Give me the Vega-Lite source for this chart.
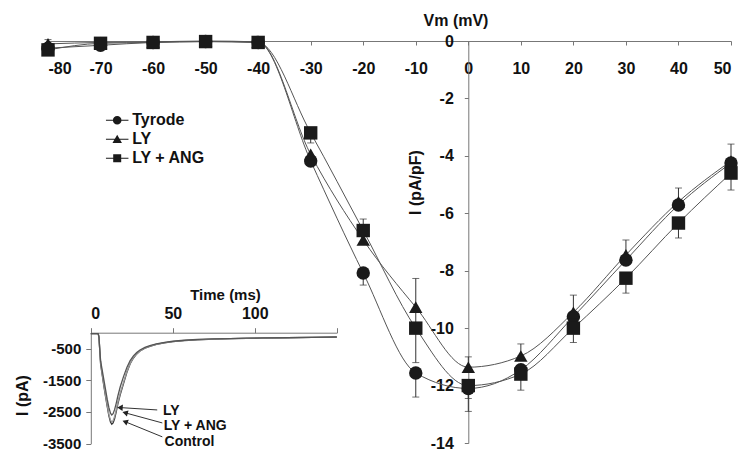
{
  "$schema": "https://vega.github.io/schema/vega-lite/v6.json",
  "width": 683,
  "height": 402,
  "autosize": {"type": "none"},
  "padding": {"left": 48, "top": 41, "right": 13, "bottom": 13},
  "background": "white",
  "config": {
    "view": {"stroke": null},
    "font": "Liberation Sans",
    "axis": {
      "grid": false,
      "labelFont": "Liberation Sans",
      "labelFontWeight": "bold",
      "labelFontSize": 16,
      "labelColor": "#111111",
      "titleFont": "Liberation Sans",
      "titleFontWeight": "bold",
      "titleFontSize": 16,
      "titleColor": "#111111",
      "domainColor": "#777777",
      "tickColor": "#777777",
      "labelOverlap": false
    }
  },
  "datasets": {
    "main": [
      {"V": -80, "I": -0.25, "series": "Tyrode"},
      {"V": -70, "I": -0.15, "series": "Tyrode"},
      {"V": -60, "I": -0.05, "series": "Tyrode"},
      {"V": -50, "I": -0.02, "series": "Tyrode"},
      {"V": -40, "I": -0.05, "series": "Tyrode"},
      {"V": -30, "I": -4.18, "series": "Tyrode"},
      {"V": -20, "I": -8.08, "series": "Tyrode"},
      {"V": -10, "I": -11.56, "series": "Tyrode"},
      {"V": 0, "I": -12.1, "series": "Tyrode"},
      {"V": 10, "I": -11.45, "series": "Tyrode"},
      {"V": 20, "I": -9.6, "series": "Tyrode"},
      {"V": 30, "I": -7.63, "series": "Tyrode"},
      {"V": 40, "I": -5.71, "series": "Tyrode"},
      {"V": 50, "I": -4.25, "series": "Tyrode"},
      {"V": -80, "I": -0.1, "series": "LY"},
      {"V": -70, "I": -0.05, "series": "LY"},
      {"V": -60, "I": -0.03, "series": "LY"},
      {"V": -50, "I": 0, "series": "LY"},
      {"V": -40, "I": -0.03, "series": "LY"},
      {"V": -30, "I": -3.95, "series": "LY"},
      {"V": -20, "I": -6.93, "series": "LY"},
      {"V": -10, "I": -9.27, "series": "LY"},
      {"V": 0, "I": -11.36, "series": "LY"},
      {"V": 10, "I": -10.97, "series": "LY"},
      {"V": 20, "I": -9.45, "series": "LY"},
      {"V": 30, "I": -7.45, "series": "LY"},
      {"V": 40, "I": -5.6, "series": "LY"},
      {"V": 50, "I": -4.18, "series": "LY"},
      {"V": -80, "I": -0.31, "series": "LY + ANG"},
      {"V": -70, "I": -0.08, "series": "LY + ANG"},
      {"V": -60, "I": -0.05, "series": "LY + ANG"},
      {"V": -50, "I": -0.02, "series": "LY + ANG"},
      {"V": -40, "I": -0.05, "series": "LY + ANG"},
      {"V": -30, "I": -3.2, "series": "LY + ANG"},
      {"V": -20, "I": -6.6, "series": "LY + ANG"},
      {"V": -10, "I": -10.0, "series": "LY + ANG"},
      {"V": 0, "I": -12.0, "series": "LY + ANG"},
      {"V": 10, "I": -11.6, "series": "LY + ANG"},
      {"V": 20, "I": -10.0, "series": "LY + ANG"},
      {"V": 30, "I": -8.26, "series": "LY + ANG"},
      {"V": 40, "I": -6.34, "series": "LY + ANG"},
      {"V": 50, "I": -4.6, "series": "LY + ANG"}
    ],
    "errors": [
      {"V": -80, "series": "LY", "lo": -0.1, "hi": 0.05},
      {"V": -30, "series": "LY + ANG", "lo": -3.55, "hi": -3.2},
      {"V": -20, "series": "LY + ANG", "lo": -6.6, "hi": -6.2},
      {"V": -20, "series": "Tyrode", "lo": -8.5, "hi": -8.08},
      {"V": -10, "series": "LY", "lo": -9.9, "hi": -8.27},
      {"V": -10, "series": "LY + ANG", "lo": -11.2, "hi": -10.0},
      {"V": -10, "series": "Tyrode", "lo": -12.4, "hi": -11.56},
      {"V": 0, "series": "LY", "lo": -11.36, "hi": -11.0},
      {"V": 0, "series": "LY + ANG", "lo": -12.45, "hi": -12.0},
      {"V": 0, "series": "Tyrode", "lo": -12.9, "hi": -12.1},
      {"V": 10, "series": "LY", "lo": -10.97, "hi": -10.55},
      {"V": 10, "series": "LY + ANG", "lo": -12.16, "hi": -11.6},
      {"V": 20, "series": "LY", "lo": -9.45, "hi": -8.85},
      {"V": 20, "series": "LY + ANG", "lo": -10.5, "hi": -10.0},
      {"V": 30, "series": "LY", "lo": -7.45, "hi": -6.93},
      {"V": 30, "series": "LY + ANG", "lo": -8.78, "hi": -8.26},
      {"V": 40, "series": "LY", "lo": -5.6, "hi": -5.12},
      {"V": 40, "series": "LY + ANG", "lo": -6.86, "hi": -6.34},
      {"V": 50, "series": "LY", "lo": -4.18, "hi": -3.59},
      {"V": 50, "series": "LY + ANG", "lo": -5.19, "hi": -4.6}
    ],
    "inset": [
      {"t": 0, "I": -30, "trace": "Control"}, {"t": 4.5, "I": -30, "trace": "Control"}, {"t": 5, "I": -150, "trace": "Control"}, {"t": 5.5, "I": -600, "trace": "Control"}, {"t": 6, "I": -1000, "trace": "Control"}, {"t": 7, "I": -1350, "trace": "Control"}, {"t": 8, "I": -1700, "trace": "Control"}, {"t": 9, "I": -2020, "trace": "Control"}, {"t": 10, "I": -2330, "trace": "Control"}, {"t": 11, "I": -2620, "trace": "Control"}, {"t": 12, "I": -2820, "trace": "Control"}, {"t": 12.8, "I": -2890, "trace": "Control"}, {"t": 13.6, "I": -2850, "trace": "Control"}, {"t": 14.5, "I": -2720, "trace": "Control"}, {"t": 15.5, "I": -2500, "trace": "Control"}, {"t": 16.5, "I": -2250, "trace": "Control"}, {"t": 18, "I": -1950, "trace": "Control"}, {"t": 20, "I": -1600, "trace": "Control"}, {"t": 22, "I": -1250, "trace": "Control"}, {"t": 24, "I": -980, "trace": "Control"}, {"t": 26, "I": -800, "trace": "Control"}, {"t": 28, "I": -670, "trace": "Control"}, {"t": 30, "I": -580, "trace": "Control"}, {"t": 33, "I": -490, "trace": "Control"}, {"t": 36, "I": -430, "trace": "Control"}, {"t": 40, "I": -370, "trace": "Control"}, {"t": 45, "I": -320, "trace": "Control"}, {"t": 50, "I": -285, "trace": "Control"}, {"t": 57, "I": -250, "trace": "Control"}, {"t": 65, "I": -225, "trace": "Control"}, {"t": 75, "I": -205, "trace": "Control"}, {"t": 85, "I": -190, "trace": "Control"}, {"t": 95, "I": -180, "trace": "Control"}, {"t": 105, "I": -170, "trace": "Control"}, {"t": 120, "I": -160, "trace": "Control"}, {"t": 135, "I": -150, "trace": "Control"}, {"t": 150, "I": -140, "trace": "Control"},
      {"t": 0, "I": -30, "trace": "LY + ANG"}, {"t": 4.5, "I": -30, "trace": "LY + ANG"}, {"t": 5, "I": -150, "trace": "LY + ANG"}, {"t": 5.5, "I": -580, "trace": "LY + ANG"}, {"t": 6, "I": -960, "trace": "LY + ANG"}, {"t": 7, "I": -1320, "trace": "LY + ANG"}, {"t": 8, "I": -1660, "trace": "LY + ANG"}, {"t": 9, "I": -1980, "trace": "LY + ANG"}, {"t": 10, "I": -2290, "trace": "LY + ANG"}, {"t": 11, "I": -2570, "trace": "LY + ANG"}, {"t": 12, "I": -2760, "trace": "LY + ANG"}, {"t": 12.8, "I": -2820, "trace": "LY + ANG"}, {"t": 13.6, "I": -2780, "trace": "LY + ANG"}, {"t": 14.5, "I": -2650, "trace": "LY + ANG"}, {"t": 15.5, "I": -2440, "trace": "LY + ANG"}, {"t": 16.5, "I": -2200, "trace": "LY + ANG"}, {"t": 18, "I": -1900, "trace": "LY + ANG"}, {"t": 20, "I": -1560, "trace": "LY + ANG"}, {"t": 22, "I": -1230, "trace": "LY + ANG"}, {"t": 24, "I": -970, "trace": "LY + ANG"}, {"t": 26, "I": -790, "trace": "LY + ANG"}, {"t": 28, "I": -665, "trace": "LY + ANG"}, {"t": 30, "I": -575, "trace": "LY + ANG"}, {"t": 33, "I": -485, "trace": "LY + ANG"}, {"t": 36, "I": -425, "trace": "LY + ANG"}, {"t": 40, "I": -365, "trace": "LY + ANG"}, {"t": 45, "I": -315, "trace": "LY + ANG"}, {"t": 50, "I": -280, "trace": "LY + ANG"}, {"t": 57, "I": -245, "trace": "LY + ANG"}, {"t": 65, "I": -220, "trace": "LY + ANG"}, {"t": 75, "I": -200, "trace": "LY + ANG"}, {"t": 85, "I": -187, "trace": "LY + ANG"}, {"t": 95, "I": -177, "trace": "LY + ANG"}, {"t": 105, "I": -168, "trace": "LY + ANG"}, {"t": 120, "I": -158, "trace": "LY + ANG"}, {"t": 135, "I": -148, "trace": "LY + ANG"}, {"t": 150, "I": -138, "trace": "LY + ANG"},
      {"t": 0, "I": -30, "trace": "LY"}, {"t": 4.5, "I": -30, "trace": "LY"}, {"t": 5, "I": -150, "trace": "LY"}, {"t": 5.5, "I": -550, "trace": "LY"}, {"t": 6, "I": -900, "trace": "LY"}, {"t": 7, "I": -1200, "trace": "LY"}, {"t": 8, "I": -1500, "trace": "LY"}, {"t": 9, "I": -1800, "trace": "LY"}, {"t": 10, "I": -2100, "trace": "LY"}, {"t": 11, "I": -2360, "trace": "LY"}, {"t": 12, "I": -2540, "trace": "LY"}, {"t": 12.8, "I": -2600, "trace": "LY"}, {"t": 13.6, "I": -2560, "trace": "LY"}, {"t": 14.5, "I": -2430, "trace": "LY"}, {"t": 15.5, "I": -2230, "trace": "LY"}, {"t": 16.5, "I": -2000, "trace": "LY"}, {"t": 18, "I": -1700, "trace": "LY"}, {"t": 20, "I": -1380, "trace": "LY"}, {"t": 22, "I": -1100, "trace": "LY"}, {"t": 24, "I": -880, "trace": "LY"}, {"t": 26, "I": -730, "trace": "LY"}, {"t": 28, "I": -625, "trace": "LY"}, {"t": 30, "I": -545, "trace": "LY"}, {"t": 33, "I": -465, "trace": "LY"}, {"t": 36, "I": -405, "trace": "LY"}, {"t": 40, "I": -350, "trace": "LY"}, {"t": 45, "I": -305, "trace": "LY"}, {"t": 50, "I": -270, "trace": "LY"}, {"t": 57, "I": -238, "trace": "LY"}, {"t": 65, "I": -214, "trace": "LY"}, {"t": 75, "I": -196, "trace": "LY"}, {"t": 85, "I": -184, "trace": "LY"}, {"t": 95, "I": -174, "trace": "LY"}, {"t": 105, "I": -166, "trace": "LY"}, {"t": 120, "I": -156, "trace": "LY"}, {"t": 135, "I": -147, "trace": "LY"}, {"t": 150, "I": -136, "trace": "LY"}
    ],
    "notes": [
      {"label": "LY", "t": 44, "I": -2480},
      {"label": "LY + ANG", "t": 44.5, "I": -2950},
      {"label": "Control", "t": 45, "I": -3450}
    ],
    "arrows": [
      {"label": "LY", "t1": 40.5, "I1": -2440, "t2": 17.8, "I2": -2365},
      {"label": "LY + ANG", "t1": 43.6, "I1": -2850, "t2": 20.9, "I2": -2530},
      {"label": "Control", "t1": 43.6, "I1": -3290, "t2": 20.9, "I2": -2810}
    ]
  },
  "layer": [
    {
      "data": {"name": "main"},
      "mark": {"type": "line", "interpolate": "monotone", "stroke": "#555555", "strokeWidth": 1},
      "encoding": {
        "x": {
          "field": "V", "type": "quantitative",
          "scale": {"domain": [-80, 50], "nice": false, "zero": false},
          "axis": {
            "orient": "bottom", "offset": -402,
            "values": [-80, -70, -60, -50, -40, -30, -20, -10, 0, 10, 20, 30, 40, 50],
            "labelExpr": "'' + datum.value",
            "tickSize": 4, "labelPadding": 15,
            "title": "Vm (mV)", "titleX": 407.5, "titleY": -21,
            "titleAlign": "center", "titleBaseline": "middle"
          }
        },
        "y": {
          "field": "I", "type": "quantitative",
          "scale": {"domain": [-14, 0], "nice": false, "zero": false},
          "axis": {
            "orient": "left", "offset": -420.3,
            "values": [0, -2, -4, -6, -8, -10, -12, -14],
            "labelExpr": "'' + datum.value",
            "tickSize": 4, "labelPadding": 11,
            "title": "I (pA/pF)", "titleX": -53.3, "titleY": 141,
            "titleAlign": "center", "titleBaseline": "middle", "titleAngle": -90
          }
        },
        "detail": {"field": "series", "type": "nominal"}
      }
    },
    {
      "data": {"name": "errors"},
      "mark": {"type": "rule", "stroke": "#333333", "strokeWidth": 1},
      "encoding": {
        "x": {"field": "V", "type": "quantitative", "scale": {"domain": [-80, 50], "nice": false, "zero": false}, "axis": null},
        "y": {"field": "lo", "type": "quantitative", "scale": {"domain": [-14, 0], "nice": false, "zero": false}, "axis": null},
        "y2": {"field": "hi"}
      }
    },
    {
      "data": {"name": "errors"},
      "mark": {"type": "tick", "orient": "horizontal", "size": 7, "thickness": 1, "color": "#333333"},
      "encoding": {
        "x": {"field": "V", "type": "quantitative", "scale": {"domain": [-80, 50], "nice": false, "zero": false}, "axis": null},
        "y": {"field": "lo", "type": "quantitative", "scale": {"domain": [-14, 0], "nice": false, "zero": false}, "axis": null}
      }
    },
    {
      "data": {"name": "errors"},
      "mark": {"type": "tick", "orient": "horizontal", "size": 7, "thickness": 1, "color": "#333333"},
      "encoding": {
        "x": {"field": "V", "type": "quantitative", "scale": {"domain": [-80, 50], "nice": false, "zero": false}, "axis": null},
        "y": {"field": "hi", "type": "quantitative", "scale": {"domain": [-14, 0], "nice": false, "zero": false}, "axis": null}
      }
    },
    {
      "data": {"name": "main"},
      "mark": {"type": "point", "filled": true, "size": 180, "color": "#1a1a1a", "opacity": 1},
      "encoding": {
        "x": {"field": "V", "type": "quantitative", "scale": {"domain": [-80, 50], "nice": false, "zero": false}, "axis": null},
        "y": {"field": "I", "type": "quantitative", "scale": {"domain": [-14, 0], "nice": false, "zero": false}, "axis": null},
        "shape": {
          "field": "series", "type": "nominal",
          "scale": {"domain": ["Tyrode", "LY", "LY + ANG"], "range": ["circle", "triangle-up", "square"]},
          "legend": null
        }
      }
    },
    {
      "data": {"name": "main"},
      "mark": {"type": "point", "filled": true, "color": "#1a1a1a", "opacity": 0},
      "encoding": {
        "x": {"field": "V", "type": "quantitative", "scale": {"domain": [-80, 50], "nice": false, "zero": false}, "axis": null},
        "y": {"field": "I", "type": "quantitative", "scale": {"domain": [-14, 0], "nice": false, "zero": false}, "axis": null},
        "shape": {
          "field": "series", "type": "nominal",
          "scale": {
            "domain": ["Tyrode", "LY", "LY + ANG"],
            "range": [
              "M-2.25,-0.1H2.25V0.1H-2.25Z M-0.86,0A0.86,0.86,0,1,1,0.86,0A0.86,0.86,0,1,1,-0.86,0Z",
              "M-2.25,-0.1H2.25V0.1H-2.25Z M0,-0.9L0.95,0.75L-0.95,0.75Z",
              "M-2.25,-0.1H2.25V0.1H-2.25Z M-0.8,-0.8H0.8V0.8H-0.8Z"
            ]
          },
          "legend": {
            "orient": "none", "legendX": 61.2, "legendY": 71.3,
            "title": null, "padding": 0,
            "labelFont": "Liberation Sans", "labelFontWeight": "bold", "labelFontSize": 16, "labelColor": "#111111",
            "symbolSize": 100, "symbolFillColor": "#1a1a1a", "symbolStrokeWidth": 0, "symbolOpacity": 1,
            "rowPadding": 3, "labelOffset": 7
          }
        }
      }
    },
    {
      "data": {"name": "inset"},
      "mark": {"type": "line", "strokeWidth": 1.3},
      "encoding": {
        "x": {
          "field": "t", "type": "quantitative",
          "scale": {"domain": [0, 150], "range": [42.8, 288.8], "nice": false, "zero": false},
          "axis": {
            "orient": "top", "offset": -291.7,
            "values": [0, 50, 100, 150],
            "labelExpr": "datum.value == 150 ? '' : '' + datum.value",
            "tickSize": 5, "labelPadding": 6, "labelFontSize": 16,
            "title": "Time (ms)", "titleX": 177, "titleY": -38.7, "titleFontSize": 15,
            "titleAlign": "center", "titleBaseline": "middle"
          }
        },
        "y": {
          "field": "I", "type": "quantitative",
          "scale": {"domain": [-3500, 0], "range": [402.5, 291.7], "nice": false, "zero": false},
          "axis": {
            "orient": "left", "offset": -42.8,
            "values": [-500, -1500, -2500, -3500],
            "labelExpr": "'' + datum.value",
            "tickSize": 5, "labelPadding": 5, "labelFontSize": 15,
            "title": "I (pA)", "titleX": -68.8, "titleY": 354, "titleFontSize": 16,
            "titleAlign": "center", "titleBaseline": "middle", "titleAngle": -90
          }
        },
        "color": {
          "field": "trace", "type": "nominal",
          "scale": {"domain": ["Control", "LY + ANG", "LY"], "range": ["#333333", "#999999", "#555555"]},
          "legend": null
        }
      }
    },
    {
      "data": {"name": "arrows"},
      "mark": {"type": "rule", "stroke": "#333333", "strokeWidth": 1},
      "encoding": {
        "x": {"field": "t1", "type": "quantitative", "scale": {"domain": [0, 150], "range": [42.8, 288.8], "nice": false, "zero": false}, "axis": null},
        "y": {"field": "I1", "type": "quantitative", "scale": {"domain": [-3500, 0], "range": [402.5, 291.7], "nice": false, "zero": false}, "axis": null},
        "x2": {"field": "t2"},
        "y2": {"field": "I2"}
      }
    },
    {
      "data": {"name": "arrows"},
      "transform": [{"filter": "datum.label == 'LY'"}],
      "mark": {"type": "point", "shape": "triangle-left", "filled": true, "size": 40, "color": "#222222", "opacity": 1, "angle": 4},
      "encoding": {
        "x": {"field": "t2", "type": "quantitative", "scale": {"domain": [0, 150], "range": [42.8, 288.8], "nice": false, "zero": false}, "axis": null},
        "y": {"field": "I2", "type": "quantitative", "scale": {"domain": [-3500, 0], "range": [402.5, 291.7], "nice": false, "zero": false}, "axis": null}
      }
    },
    {
      "data": {"name": "arrows"},
      "transform": [{"filter": "datum.label == 'LY + ANG'"}],
      "mark": {"type": "point", "shape": "triangle-left", "filled": true, "size": 40, "color": "#222222", "opacity": 1, "angle": 15},
      "encoding": {
        "x": {"field": "t2", "type": "quantitative", "scale": {"domain": [0, 150], "range": [42.8, 288.8], "nice": false, "zero": false}, "axis": null},
        "y": {"field": "I2", "type": "quantitative", "scale": {"domain": [-3500, 0], "range": [402.5, 291.7], "nice": false, "zero": false}, "axis": null}
      }
    },
    {
      "data": {"name": "arrows"},
      "transform": [{"filter": "datum.label == 'Control'"}],
      "mark": {"type": "point", "shape": "triangle-left", "filled": true, "size": 40, "color": "#222222", "opacity": 1, "angle": 22},
      "encoding": {
        "x": {"field": "t2", "type": "quantitative", "scale": {"domain": [0, 150], "range": [42.8, 288.8], "nice": false, "zero": false}, "axis": null},
        "y": {"field": "I2", "type": "quantitative", "scale": {"domain": [-3500, 0], "range": [402.5, 291.7], "nice": false, "zero": false}, "axis": null}
      }
    },
    {
      "data": {"name": "notes"},
      "mark": {"type": "text", "align": "left", "baseline": "middle", "font": "Liberation Sans", "fontWeight": "bold", "fontSize": 14, "fill": "#111111"},
      "encoding": {
        "x": {"field": "t", "type": "quantitative", "scale": {"domain": [0, 150], "range": [42.8, 288.8], "nice": false, "zero": false}, "axis": null},
        "y": {"field": "I", "type": "quantitative", "scale": {"domain": [-3500, 0], "range": [402.5, 291.7], "nice": false, "zero": false}, "axis": null},
        "text": {"field": "label", "type": "nominal"}
      }
    }
  ],
  "resolve": {"scale": {"x": "independent", "y": "independent", "shape": "independent", "color": "independent"}}
}
